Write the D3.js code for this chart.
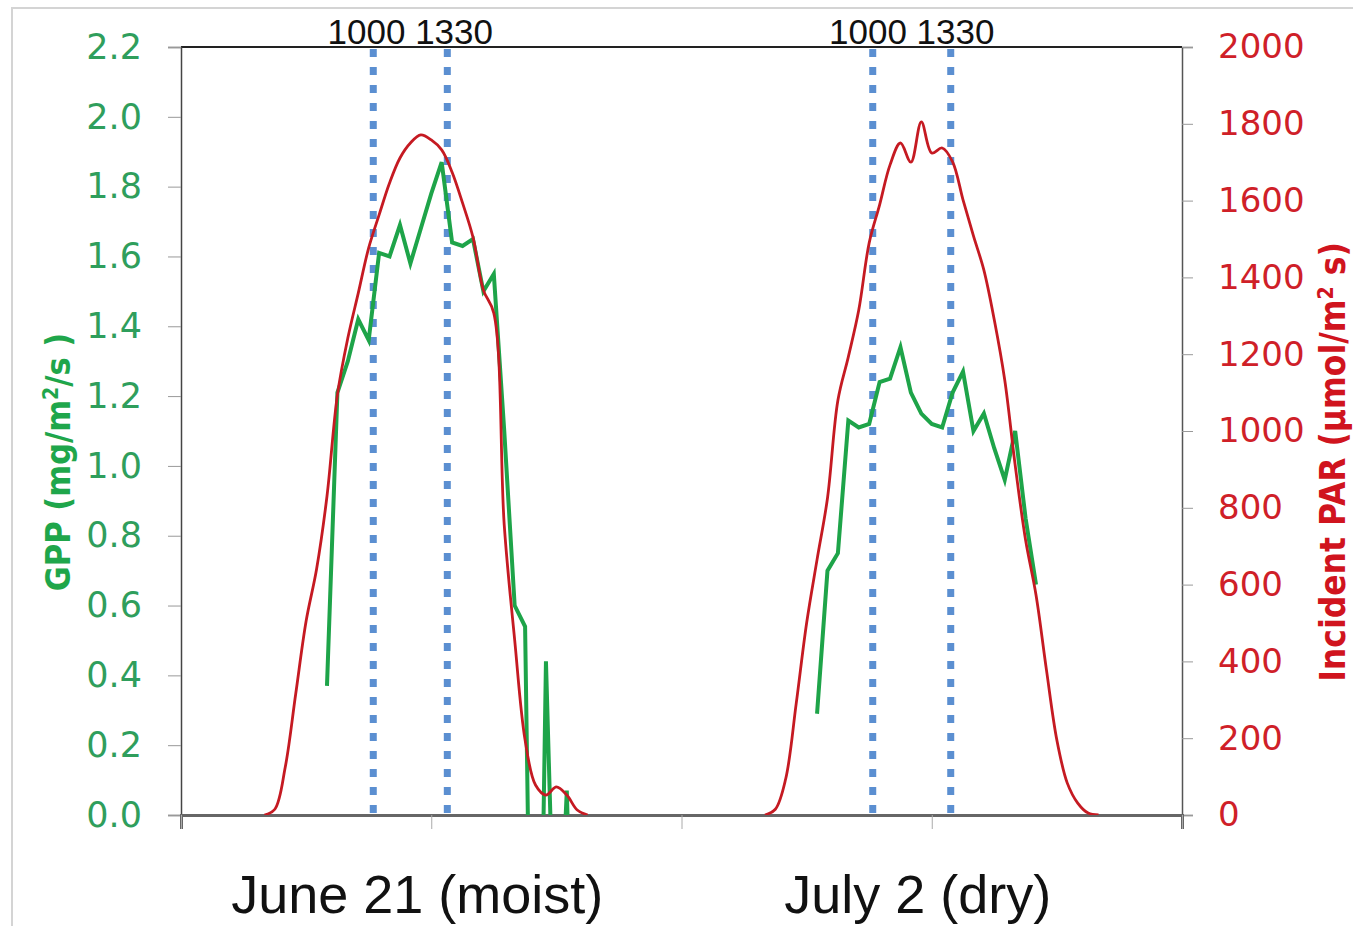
<!DOCTYPE html>
<html>
<head>
<meta charset="utf-8">
<script src="https://cdn.jsdelivr.net/npm/d3@7"></script>
<style>
  body { margin: 0; background: #fff; }
  .tick text { font-family: "DejaVu Sans", Verdana, sans-serif; }
</style>
</head>
<body>
<svg id="chart" width="1353" height="926"></svg>
<script>
  // day labels under the x axis
  var dayLabels = ["June 21 (moist)", "July 2 (dry)"];
  var dayCentres = [12, 36];              // hours since June 21 00:00 (chart time base)

  // incident PAR (umol/m2 s), half-hourly, starting at the given hour
  var parJuneStart = 4.0;
  var parJune = [0, 15, 125, 315, 505, 640, 830, 1094, 1242, 1359, 1477, 1563, 1646, 1711, 1750, 1771,
                 1758, 1732, 1674, 1594, 1505, 1367, 1307, 755, 456, 195, 78, 52, 73, 52, 13, 0];
  var parJulyStart = 28.0;
  var parJuly = [0, 15, 95, 290, 500, 665, 825, 1080, 1193, 1315, 1490, 1589, 1693, 1750, 1700, 1805,
                 1724, 1737, 1701, 1602, 1508, 1419, 1289, 1133, 911, 716, 573, 378, 195, 83, 31, 5, 0];

  // GPP (mg/m2/s), half-hourly; negative night values fall below the axis and get clipped
  var gppJuneStart = 7.0;
  var gppJune = [0.37, 1.21, 1.30, 1.42, 1.36, 1.61, 1.60, 1.69, 1.58, 1.68, 1.78, 1.87, 1.64, 1.63,
                 1.65, 1.50, 1.55, 1.10, 0.60, 0.54, -1.5, 0.44, -0.6, 0.07, -1.0];
  var gppJulyStart = 30.5;
  var gppJuly = [0.29, 0.70, 0.75, 1.13, 1.11, 1.12, 1.24, 1.25, 1.34, 1.21, 1.15, 1.12, 1.11, 1.21,
                 1.27, 1.10, 1.15, 1.05, 0.96, 1.10, 0.85, 0.66];

  // 1000 and 1330 marker lines, as placed on the chart
  var markerHours = [9.22, 12.77, 33.17, 36.91];
  var markerText = "1000 1330";

  // axis ticks
  var gppTicks = [0, 0.2, 0.4, 0.6, 0.8, 1.0, 1.2, 1.4, 1.6, 1.8, 2.0, 2.2];
  var parTicks = [0, 200, 400, 600, 800, 1000, 1200, 1400, 1600, 1800, 2000];
  var hourTicks = [0, 12, 24, 36, 48];

  var svg = d3.select("#chart");

  // screenshot frame
  svg.append("path")
    .attr("d", "M12,926 V8 H1353")
    .attr("fill", "none")
    .attr("stroke", "#d4d4d4")
    .attr("stroke-width", 2);

  var plotL = 181, plotR = 1182, plotT = 47, plotB = 815;

  var x = d3.scaleLinear().domain([0, 48]).range([plotL, plotR]);
  var yG = d3.scaleLinear().domain([0, 2.2]).range([plotB, plotT]);
  var yP = d3.scaleLinear().domain([0, 2000]).range([plotB, plotT]);

  var green = "#1ea449", red = "#c51a22", blue = "#5b8fd1";

  svg.append("defs").append("clipPath").attr("id", "plotclip")
    .append("rect")
    .attr("x", plotL).attr("y", plotT)
    .attr("width", plotR - plotL).attr("height", plotB - plotT);

  // top border of plot
  svg.append("line")
    .attr("x1", plotL).attr("x2", plotR)
    .attr("y1", plotT).attr("y2", plotT)
    .attr("stroke", "#222").attr("stroke-width", 2);

  // left axis
  var gAxisL = svg.append("g")
    .attr("transform", "translate(" + plotL + ",0)")
    .call(d3.axisLeft(yG).tickValues(gppTicks).tickFormat(d3.format(".1f"))
      .tickSize(13).tickPadding(26));
  gAxisL.select(".domain").attr("stroke", "#444").attr("stroke-width", 1.5);
  gAxisL.selectAll(".tick line").attr("stroke", "#999");
  gAxisL.selectAll(".tick text").attr("fill", "#2f9e5c").attr("font-size", 35);

  // right axis
  var gAxisR = svg.append("g")
    .attr("transform", "translate(" + plotR + ",0)")
    .call(d3.axisRight(yP).tickValues(parTicks).tickFormat(d3.format("d"))
      .tickSize(11).tickPadding(25));
  gAxisR.select(".domain").attr("stroke", "#555").attr("stroke-width", 1.5);
  gAxisR.selectAll(".tick line").attr("stroke", "#999");
  gAxisR.selectAll(".tick text").attr("fill", "#cf2028").attr("font-size", 34);

  // bottom axis
  var gAxisB = svg.append("g")
    .attr("transform", "translate(0," + plotB + ")")
    .call(d3.axisBottom(x).tickValues(hourTicks).tickFormat("").tickSize(14));
  gAxisB.select(".domain").attr("stroke", "#666").attr("stroke-width", 3);
  gAxisB.selectAll(".tick line").attr("stroke", "#aaa");

  // dotted marker lines
  svg.selectAll(".marker")
    .data(markerHours)
    .enter().append("line")
    .attr("class", "marker")
    .attr("x1", function(d) { return x(d); })
    .attr("x2", function(d) { return x(d); })
    .attr("y1", plotT + 2).attr("y2", plotB - 2)
    .attr("stroke", blue)
    .attr("stroke-width", 7)
    .attr("stroke-dasharray", "8 10");

  // marker labels, one per day, centred between the two lines
  [0, 2].forEach(function(i) {
    svg.append("text")
      .attr("x", (x(markerHours[i]) + x(markerHours[i + 1])) / 2)
      .attr("y", 44)
      .attr("text-anchor", "middle")
      .attr("font-family", "'Liberation Sans', Arial, sans-serif")
      .attr("font-size", 35)
      .attr("fill", "#111")
      .text(markerText);
  });

  function toPoints(start, values) {
    return values.map(function(v, i) { return [start + i * 0.5, v]; });
  }

  var parLine = d3.line()
    .curve(d3.curveCatmullRom.alpha(0.5))
    .x(function(d) { return x(d[0]); })
    .y(function(d) { return yP(d[1]); });

  var gppLine = d3.line()
    .x(function(d) { return x(d[0]); })
    .y(function(d) { return yG(d[1]); });

  var plot = svg.append("g").attr("clip-path", "url(#plotclip)");

  [[gppJuneStart, gppJune], [gppJulyStart, gppJuly]].forEach(function(s) {
    plot.append("path")
      .datum(toPoints(s[0], s[1]))
      .attr("d", gppLine)
      .attr("fill", "none")
      .attr("stroke", green)
      .attr("stroke-width", 4)
      .attr("stroke-linejoin", "miter");
  });

  [[parJuneStart, parJune], [parJulyStart, parJuly]].forEach(function(s) {
    plot.append("path")
      .datum(toPoints(s[0], s[1]))
      .attr("d", parLine)
      .attr("fill", "none")
      .attr("stroke", red)
      .attr("stroke-width", 2.8);
  });

  // day labels
  svg.selectAll(".day")
    .data(dayLabels)
    .enter().append("text")
    .attr("class", "day")
    .attr("x", function(d, i) { return x(dayCentres[i]) - 14; })
    .attr("y", 913)
    .attr("text-anchor", "middle")
    .attr("font-family", "'Liberation Sans', Arial, sans-serif")
    .attr("font-size", 54)
    .attr("fill", "#111")
    .text(function(d) { return d; });

  // axis titles
  var titleL = svg.append("text")
    .attr("transform", "translate(70,462) rotate(-90)")
    .attr("text-anchor", "middle")
    .attr("font-family", "'Liberation Sans Narrow', 'DejaVu Sans Condensed', sans-serif")
    .attr("font-weight", "bold")
    .attr("font-size", 34)
    .attr("fill", "#1fa64b");
  titleL.append("tspan").text("GPP (mg/m");
  titleL.append("tspan").attr("dy", -12).attr("font-size", 21).text("2");
  titleL.append("tspan").attr("dy", 12).text("/s )");

  var titleR = svg.append("text")
    .attr("transform", "translate(1345,462) rotate(-90)")
    .attr("text-anchor", "middle")
    .attr("font-family", "'Liberation Sans Narrow', 'DejaVu Sans Condensed', sans-serif")
    .attr("font-weight", "bold")
    .attr("font-size", 35)
    .attr("fill", "#d0141e");
  titleR.append("tspan").text("Incident PAR (\u00b5mol/m");
  titleR.append("tspan").attr("dy", -12).attr("font-size", 21).text("2");
  titleR.append("tspan").attr("dy", 12).text(" s)");
</script>
</body>
</html>
